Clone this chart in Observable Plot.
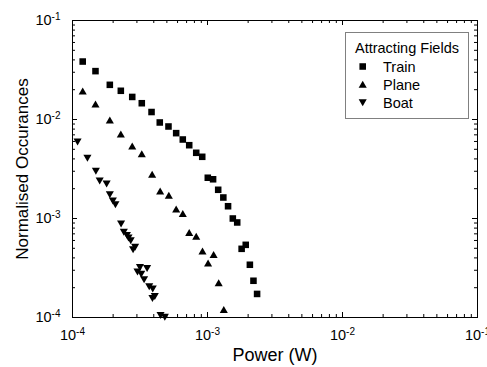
<!DOCTYPE html>
<html>
<head>
<meta charset="utf-8">
<script src="https://cdn.jsdelivr.net/npm/d3@7"></script>
<script src="https://cdn.jsdelivr.net/npm/@observablehq/plot@0.6"></script>
<style>
  html, body { margin: 0; padding: 0; background: #fff; }
  #chart { width: 487px; height: 367px; }
</style>
</head>
<body>
<div id="chart"></div>
<script>
// ---- Data ----
const seriesNames = ["Train", "Plane", "Boat"];

const trainX = [1.19e-4, 1.48e-4, 1.89e-4, 2.28e-4, 2.77e-4, 3.26e-4, 3.85e-4, 4.43e-4, 5.14e-4, 5.86e-4,
                6.56e-4, 7.32e-4, 8.25e-4, 9.14e-4, 1.005e-3, 1.10e-3, 1.20e-3, 1.31e-3, 1.42e-3, 1.54e-3,
                1.66e-3, 1.79e-3, 1.92e-3, 2.06e-3, 2.19e-3, 2.33e-3];
const trainY = [3.85e-2, 3.08e-2, 2.24e-2, 1.95e-2, 1.69e-2, 1.46e-2, 1.19e-2, 9.33e-3, 8.50e-3, 7.28e-3,
                6.28e-3, 5.50e-3, 4.61e-3, 4.20e-3, 2.58e-3, 2.49e-3, 1.95e-3, 1.63e-3, 1.33e-3, 1.00e-3,
                9.12e-4, 4.94e-4, 5.42e-4, 3.41e-4, 2.35e-4, 1.73e-4];

const planeX = [1.19e-4, 1.48e-4, 1.89e-4, 2.28e-4, 2.77e-4, 3.26e-4, 3.89e-4, 4.46e-4, 5.17e-4, 5.86e-4,
                6.56e-4, 7.32e-4, 8.25e-4, 9.18e-4, 1.01e-3, 1.11e-3, 1.21e-3, 1.32e-3];
const planeY = [1.93e-2, 1.43e-2, 9.84e-3, 7.11e-3, 5.37e-3, 4.50e-3, 2.78e-3, 1.89e-3, 1.71e-3, 1.24e-3,
                1.12e-3, 7.18e-4, 6.58e-4, 4.67e-4, 3.53e-4, 4.30e-4, 2.24e-4, 1.20e-4];

const boatX = [1.09e-4, 1.29e-4, 1.49e-4, 1.59e-4, 1.79e-4, 1.89e-4, 1.99e-4, 2.08e-4, 2.29e-4, 2.40e-4,
               2.53e-4, 2.60e-4, 2.70e-4, 2.81e-4, 2.91e-4, 3.16e-4, 3.57e-4, 3.03e-4, 3.23e-4, 3.39e-4,
               3.70e-4, 3.93e-4, 4.07e-4, 3.91e-4, 4.49e-4, 4.83e-4];
const boatY = [5.95e-3, 4.08e-3, 3.01e-3, 2.40e-3, 2.24e-3, 1.74e-3, 1.51e-3, 1.38e-3, 8.84e-4, 7.31e-4,
               6.78e-4, 6.38e-4, 6.00e-4, 4.86e-4, 5.15e-4, 3.22e-4, 3.13e-4, 2.90e-4, 2.74e-4, 2.42e-4,
               2.05e-4, 1.95e-4, 1.64e-4, 1.56e-4, 1.05e-4, 1.01e-4];

const majorTicks = [1e-4, 1e-3, 1e-2, 1e-1];
const majorLabels = ["10^-4", "10^-3", "10^-2", "10^-1"];

const xTitle = "Power (W)";
const yTitle = "Normalised Occurances";
const legendTitle = "Attracting Fields";

// ---- Layout ----
const W = 487, H = 367;
const mL = 72, mR = 10, mT = 20, mB = 50;
const plotW = W - mL - mR, plotH = H - mT - mB;
const majorLen = 5, minorLen = 3;
const FONT = "'Liberation Sans', Arial, Helvetica, sans-serif";

const toRows = (xs, ys) => xs.map((x, i) => ({x, y: ys[i]}));
const train = toRows(trainX, trainY);
const plane = toRows(planeX, planeY);
const boat = toRows(boatX, boatY);

const minorTicks = d3.scaleLog().domain([1e-4, 1e-1]).ticks().filter(t => !majorTicks.some(m => Math.abs(m - t) / m < 1e-6));
const labelOf = d => majorLabels[majorTicks.findIndex(m => Math.abs(m - d) / m < 1e-6)];

const sqR = 3.7, triR = 3.0;

const chart = Plot.plot({
  width: W, height: H,
  marginLeft: mL, marginRight: mR, marginTop: mT, marginBottom: mB,
  style: {fontFamily: FONT, background: "#fff", color: "#000", overflow: "visible"},
  x: {type: "log", domain: [1e-4, 1e-1]},
  y: {type: "log", domain: [1e-4, 1e-1]},
  marks: [
    // inward ticks on all four sides
    Plot.tickX(minorTicks, {x: d => d, insetTop: plotH - minorLen, stroke: "#000"}),
    Plot.tickX(minorTicks, {x: d => d, insetBottom: plotH - minorLen, stroke: "#000"}),
    Plot.tickX(majorTicks, {x: d => d, insetTop: plotH - majorLen, stroke: "#000"}),
    Plot.tickX(majorTicks, {x: d => d, insetBottom: plotH - majorLen, stroke: "#000"}),
    Plot.tickY(minorTicks, {y: d => d, insetRight: plotW - minorLen, stroke: "#000"}),
    Plot.tickY(minorTicks, {y: d => d, insetLeft: plotW - minorLen, stroke: "#000"}),
    Plot.tickY(majorTicks, {y: d => d, insetRight: plotW - majorLen, stroke: "#000"}),
    Plot.tickY(majorTicks, {y: d => d, insetLeft: plotW - majorLen, stroke: "#000"}),
    Plot.axisX({anchor: "bottom", ticks: majorTicks, tickSize: 0, tickPadding: 12, tickFormat: labelOf, fontSize: 14.5, label: null}),
    Plot.axisY({anchor: "left", ticks: majorTicks, tickSize: 0, tickPadding: 12, tickFormat: labelOf, fontSize: 14.5, label: null}),
    Plot.frame({stroke: "#000", strokeWidth: 1}),
    Plot.text([xTitle], {frameAnchor: "bottom", dy: 38, text: d => d, fontSize: 18, textAnchor: "middle", lineAnchor: "middle"}),
    Plot.text([yTitle], {frameAnchor: "left", dx: -50, text: d => d, fontSize: 17, rotate: -90, textAnchor: "middle", lineAnchor: "middle"}),
    Plot.dot(train, {x: "x", y: "y", symbol: "square", r: sqR, fill: "#000", stroke: "none"}),
    Plot.dot(plane, {x: "x", y: "y", symbol: "triangle", r: triR, fill: "#000", stroke: "none", dy: 1}),
    Plot.dot(boat, {x: "x", y: "y", symbol: "triangle", r: triR, rotate: 180, fill: "#000", stroke: "none", dy: -1})
  ]
});

document.getElementById("chart").appendChild(chart);

// superscript exponents in tick labels
const NS = "http://www.w3.org/2000/svg";
chart.querySelectorAll('g[aria-label$="tick label"] text').forEach(t => {
  const m = t.textContent.match(/^10\^(.*)$/);
  if (!m) return;
  t.textContent = "10";
  const ts = document.createElementNS(NS, "tspan");
  ts.setAttribute("dy", "-0.5em");
  ts.setAttribute("font-size", "10");
  ts.textContent = m[1];
  t.appendChild(ts);
});

// legend
const svg = d3.select(chart);
const lg = svg.append("g").attr("font-family", FONT).attr("text-anchor", "start");
const box = {x: 345, y: 32, w: 123, h: 86};
lg.append("rect").attr("x", box.x + 0.5).attr("y", box.y + 0.5).attr("width", box.w).attr("height", box.h)
  .attr("fill", "#fff").attr("stroke", "#808080").attr("stroke-width", 1);
lg.append("text").attr("x", box.x + 10).attr("y", box.y + 16).attr("dy", "0.35em")
  .attr("font-size", 14.5).text(legendTitle);
const legSyms = [
  {sym: d3.symbolSquare, r: sqR, rot: 0, dy: 0},
  {sym: d3.symbolTriangle, r: triR, rot: 0, dy: 1},
  {sym: d3.symbolTriangle, r: triR, rot: 180, dy: -1}
];
seriesNames.forEach((name, i) => {
  const cy = box.y + 34.5 + i * 18;
  const s = legSyms[i];
  lg.append("path")
    .attr("d", d3.symbol(s.sym, s.r * s.r * Math.PI)())
    .attr("transform", `translate(${box.x + 17.7},${cy + s.dy}) rotate(${s.rot})`)
    .attr("fill", "#000");
  lg.append("text").attr("x", box.x + 38).attr("y", cy).attr("dy", "0.35em")
    .attr("font-size", 14.5).text(name);
});
</script>
</body>
</html>
